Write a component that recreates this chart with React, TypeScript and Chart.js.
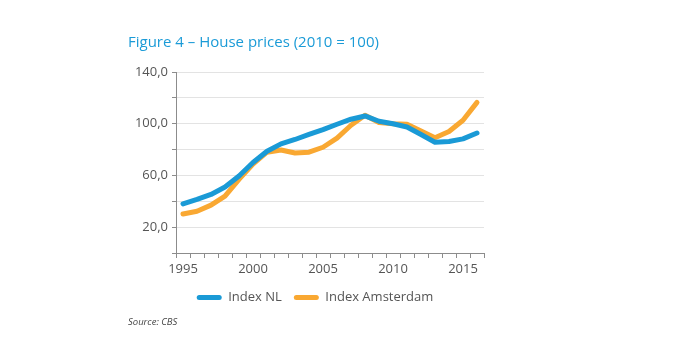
import React, { useEffect, useRef } from "react";
import { Chart, registerables } from "chart.js";

Chart.register(...registerables);

const years = [
  "1995", "1996", "1997", "1998", "1999", "2000", "2001", "2002", "2003", "2004", "2005",
  "2006", "2007", "2008", "2009", "2010", "2011", "2012", "2013", "2014", "2015", "2016",
];
const indexNL = [
  38, 41.4, 45.3, 51, 59.6, 70, 78.7, 84.4, 87.8, 91.7, 95.4,
  99.6, 103.5, 106, 101.9, 100, 97.5, 91.7, 85.7, 86.3, 88.3, 92.8,
];
const indexAmsterdam = [
  30.2, 32.3, 37, 44, 57, 68.8, 78, 79.7, 77.4, 78, 81.8,
  88.9, 98.8, 106.6, 100.9, 100, 99.6, 94.3, 89.1, 94, 102.7, 116.5,
];
const labeledYTicks = [20, 60, 100, 140];
const titleText = "Figure 4 – House prices (2010 = 100)";
const sourceText = "Source: CBS";

const FONT = "'Open Sans', 'Noto Sans', sans-serif";
const BLUE = "#1a9ad6";
const ORANGE = "#f9a832";
const TEXT = "#555555";

const legendShift = {
  id: "legendShift",
  afterLayout(chart: any) {
    const lg = chart.legend;
    if (lg) {
      lg.left -= 15;
      lg.right -= 15;
    }
  },
};

export default function App() {
  const ref = useRef<HTMLCanvasElement | null>(null);
  useEffect(() => {
    if (!ref.current) return;
    const chart = new Chart(ref.current, {
      type: "line",
      data: {
        labels: years,
        datasets: [
          {
            label: "Index NL",
            data: indexNL,
            borderColor: BLUE,
            backgroundColor: BLUE,
            borderWidth: 5,
            pointRadius: 0,
            tension: 0,
            borderCapStyle: "round",
            borderJoinStyle: "round",
          },
          {
            label: "Index Amsterdam",
            data: indexAmsterdam,
            borderColor: ORANGE,
            backgroundColor: ORANGE,
            borderWidth: 5,
            pointRadius: 0,
            tension: 0,
            borderCapStyle: "round",
            borderJoinStyle: "round",
          },
        ],
      },
      plugins: [legendShift],
      options: {
        animation: false,
        responsive: false,
        maintainAspectRatio: false,
        layout: { padding: { left: 100, right: 190, top: 72, bottom: 36 } },
        plugins: {
          tooltip: { enabled: false },
          title: { display: false },
          legend: {
            position: "bottom",
            fullSize: false,
            labels: {
              boxWidth: 25,
              boxHeight: 5,
              useBorderRadius: true,
              borderRadius: 2.5,
              padding: 12,
              color: TEXT,
              font: { family: FONT, size: 13 },
              generateLabels: (c: any) =>
                c.data.datasets.map((d: any, i: number) => ({
                  text: d.label,
                  fillStyle: d.borderColor,
                  strokeStyle: d.borderColor,
                  lineWidth: 0,
                  fontColor: TEXT,
                  hidden: false,
                  datasetIndex: i,
                  borderRadius: 2.5,
                })),
            },
          },
        },
        scales: {
          x: {
            type: "category",
            offset: true,
            afterFit: (s: any) => {
              s.height = 26;
            },
            grid: {
              offset: true,
              drawOnChartArea: false,
              drawTicks: true,
              tickLength: 5,
              color: "#8c8c8c",
            },
            border: { color: "#8c8c8c", width: 1 },
            ticks: {
              autoSkip: false,
              maxRotation: 0,
              padding: 3,
              color: TEXT,
              font: { family: FONT, size: 13 },
              callback: (_v: any, i: number) =>
                Number(years[i]) % 5 === 0 ? years[i] : "",
            },
          },
          y: {
            min: 0,
            max: 140,
            afterFit: (s: any) => {
              s.width = 76;
            },
            grid: {
              color: "#e3e3e3",
              drawTicks: true,
              tickLength: 4,
              tickColor: "#8c8c8c",
            },
            border: { color: "#8c8c8c", width: 1 },
            ticks: {
              stepSize: 20,
              padding: 4,
              color: TEXT,
              font: { family: FONT, size: 13 },
              callback: (v: any) =>
                labeledYTicks.includes(Number(v))
                  ? Number(v).toFixed(1).replace(".", ",")
                  : "",
            },
          },
        },
      },
    });
    return () => chart.destroy();
  }, []);

  return (
    <div style={{ position: "fixed", left: 0, top: 0, width: 674, height: 350, background: "#fff" }}>
      <canvas ref={ref} width={674} height={350} style={{ position: "absolute", left: 0, top: 0 }} />
      <div
        style={{
          position: "absolute",
          left: 128,
          top: 31,
          fontFamily: FONT,
          fontSize: 15,
          color: "#1b9bd7",
          whiteSpace: "nowrap",
        }}
      >
        {titleText}
      </div>
      <div
        style={{
          position: "absolute",
          left: 128,
          top: 315,
          fontFamily: FONT,
          fontSize: 9.5,
          fontStyle: "italic",
          color: "#444",
          whiteSpace: "nowrap",
        }}
      >
        {sourceText}
      </div>
    </div>
  );
}
